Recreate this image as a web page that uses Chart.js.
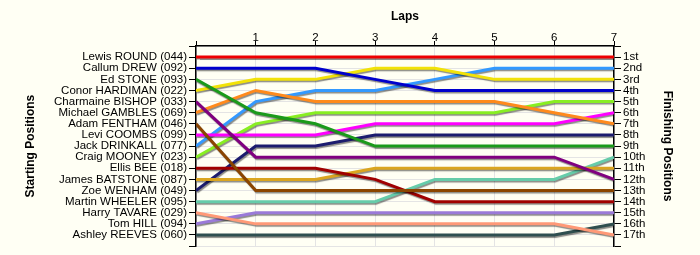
<!DOCTYPE html>
<html><head><meta charset="utf-8">
<script src="https://cdn.jsdelivr.net/npm/chart.js@4/dist/chart.umd.min.js"></script>
<style>html,body{margin:0;padding:0;background:#fffff4;}#wrap{width:700px;height:255px;}</style>
</head><body><div id="wrap"><canvas id="c" width="700" height="255"></canvas></div>
<script>
const laps = [0,1,2,3,4,5,6,7];
const lapLabels = ['','1','2','3','4','5','6','7'];
const drivers = ['Lewis ROUND (044)','Callum DREW (092)','Ed STONE (093)','Conor HARDIMAN (022)','Charmaine BISHOP (033)','Michael GAMBLES (069)','Adam FENTHAM (046)','Levi COOMBS (099)','Jack DRINKALL (077)','Craig MOONEY (023)','Ellis BEE (018)','James BATSTONE (087)','Zoe WENHAM (049)','Martin WHEELER (095)','Harry TAVARE (029)','Tom HILL (094)','Ashley REEVES (060)'];
const finishLabels = ['1st','2nd','3rd','4th','5th','6th','7th','8th','9th','10th','11th','12th','13th','14th','15th','16th','17th'];
const positions = [
  [1,1,1,1,1,1,1,1],
  [2,2,2,3,4,4,4,4],
  [3,6,7,9,9,9,9,9],
  [4,3,3,2,2,3,3,3],
  [5,10,10,10,10,10,10,12],
  [6,4,5,5,5,5,6,7],
  [7,13,13,13,13,13,13,13],
  [8,8,8,7,7,7,7,6],
  [9,5,4,4,3,2,2,2],
  [10,7,6,6,6,6,5,5],
  [11,11,11,12,14,14,14,14],
  [12,12,12,11,11,11,11,11],
  [13,9,9,8,8,8,8,8],
  [14,14,14,14,12,12,12,10],
  [15,16,16,16,16,16,16,17],
  [16,15,15,15,15,15,15,15],
  [17,17,17,17,17,17,17,16]
];
const colors = ['#ee0000','#0000cc','#1a9a1a','#f2e208','#800080','#ff8a1c','#8b4500','#ff00ff','#3399ff','#88ee22','#a00000','#daa520','#1c1c6e','#66ccaa','#ff9977','#9a7ad8','#2f4f4f'];

const datasets = drivers.map((d,i)=>({
  label:d,
  data: laps.map((l,j)=>({x:l,y:positions[i][j]})),
  borderColor: colors[i],
  borderWidth: 3,
  pointRadius: 0,
  tension: 0,
  fill:false,
  yAxisID:'y'
}));
datasets.push({label:'_r',data:[],yAxisID:'y2'});

const shadow = {
  id:'shadow',
  beforeDatasetDraw(chart){const c=chart.ctx;c.save();c.shadowColor='rgba(0,0,0,0.45)';c.shadowOffsetX=1;c.shadowOffsetY=1.5;c.shadowBlur=1;},
  afterDatasetDraw(chart){chart.ctx.restore();}
};
const bg = {id:'bg',beforeDraw(chart){const c=chart.ctx;c.save();c.fillStyle='#fffff4';c.fillRect(0,0,chart.width,chart.height);c.restore();}};

const font = {family:'"Liberation Sans", Arial, sans-serif', size:11.5};
const tfont = {family:'"Liberation Sans", Arial, sans-serif', size:12, weight:'bold'};
const gridCol = '#e4e4e4';
new Chart(document.getElementById('c'),{
  type:'line',
  data:{datasets},
  options:{
    responsive:false, animation:false,
    layout:{padding:{left:23,right:25,top:9,bottom:8}},
    plugins:{legend:{display:false},tooltip:{enabled:false}},
    scales:{
      x:{type:'linear',position:'top',min:0,max:7,
        afterFit(ax){ax.height=37;},
        ticks:{stepSize:1,color:'#000',font,padding:-4,callback:(v)=>lapLabels[v]},
        grid:{color:gridCol,tickColor:'#000',tickLength:5,lineWidth:1},
        border:{color:'#000',width:1.5},
        title:{display:true,text:'Laps',color:'#000',font:tfont,padding:{top:0,bottom:4}}
      },
      y:{type:'linear',position:'left',min:0,max:18,reverse:true,
        afterFit(ax){ax.width=173;},
        afterBuildTicks(ax){ax.ticks=[];for(let i=0;i<=18;i++)ax.ticks.push({value:i});},
        ticks:{color:'#000',font,padding:2,autoSkip:false,callback:(v)=>drivers[v-1]||''},
        grid:{color:gridCol,tickColor:'#000',tickLength:7},
        border:{color:'#000',width:1.5},
        title:{display:true,text:'Starting Positions',color:'#000',font:tfont,padding:{top:0,bottom:0}}
      },
      y2:{type:'linear',position:'right',min:0,max:18,reverse:true,
        afterFit(ax){ax.width=61;},
        afterBuildTicks(ax){ax.ticks=[];for(let i=0;i<=18;i++)ax.ticks.push({value:i});},
        ticks:{color:'#000',font,padding:2,autoSkip:false,callback:(v)=>finishLabels[v-1]||''},
        grid:{drawOnChartArea:false,tickColor:'#000',tickLength:7},
        border:{color:'#000',width:1.5},
        title:{display:true,text:'Finishing Positions',color:'#000',font:tfont,padding:{top:0,bottom:0}}
      }
    }
  },
  plugins:[bg,shadow]
});
</script></body></html>
